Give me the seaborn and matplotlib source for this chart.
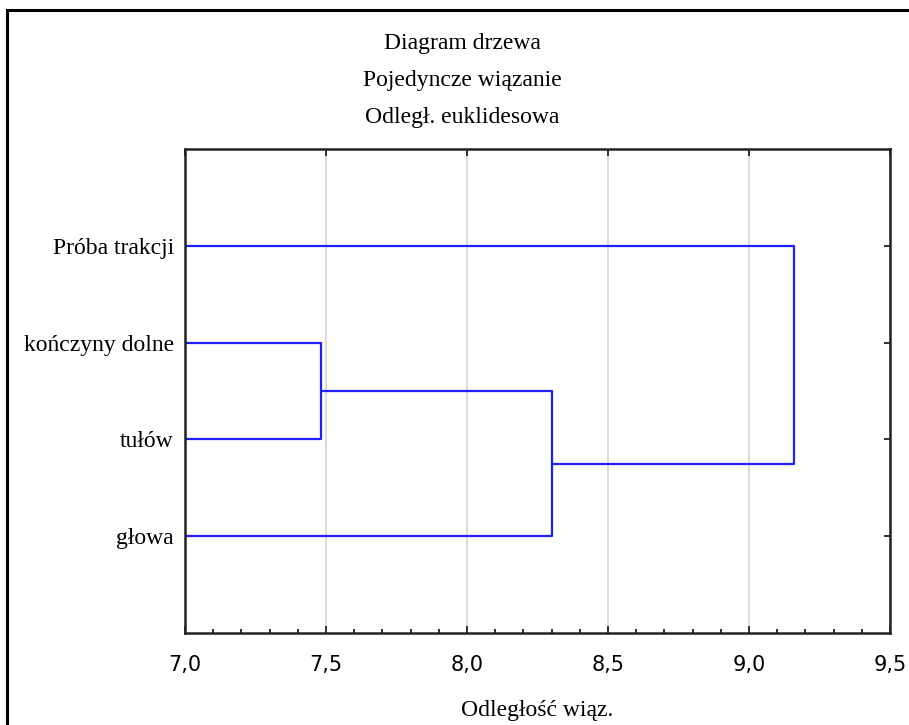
import numpy as np
import pandas as pd
import matplotlib
matplotlib.use("Agg")
import matplotlib.pyplot as plt
import matplotlib.patches as patches
import seaborn as sns
from matplotlib.ticker import MultipleLocator, FuncFormatter

# ----- data: single linkage tree, euclidean distance -----
leaves = ["Próba trakcji", "kończyny dolne", "tułów", "głowa"]
# each merge joins member_a and member_b at merge_dist; clusters are called C1, C2, ...
member_a = ["kończyny dolne", "C1", "Próba trakcji"]
member_b = ["tułów", "głowa", "C2"]
merge_dist = [7.484, 8.30, 9.16]

title_lines = ["Diagram drzewa", "Pojedyncze wiązanie", "Odległ. euklidesowa"]
x_label = "Odległość wiąz."
x_min, x_max = 7.0, 9.5

sns.set_style("white")
plt.rcParams["font.family"] = ["Liberation Serif", "DejaVu Serif"]
plt.rcParams["text.color"] = "black"

# build the dendrogram segments
pos = {name: i + 1 for i, name in enumerate(leaves)}
height = {name: x_min for name in leaves}
rows = []
for i, (a, b, d) in enumerate(zip(member_a, member_b, merge_dist)):
    pts = [(height[a], pos[a]), (d, pos[a]), (d, pos[b]), (height[b], pos[b])]
    for px, py in pts:
        rows.append({"x": px, "y": py, "seg": i})
    name = "C" + str(i + 1)
    pos[name] = (pos[a] + pos[b]) / 2
    height[name] = d
seg_df = pd.DataFrame(rows)

fig = plt.figure(figsize=(9.09, 7.25), dpi=100)
ax = fig.add_axes([0.2035, 0.127, 0.7755, 0.6675])

sns.lineplot(data=seg_df, x="x", y="y", units="seg", estimator=None, sort=False,
             color="#2020ff", linewidth=1.6, legend=False, ax=ax)

ax.set_xlim(x_min, x_max)
ax.set_ylim(5, 0)
ax.set_yticks(range(1, len(leaves) + 1))
ax.set_yticklabels(leaves, fontsize=17)
ax.xaxis.set_major_locator(MultipleLocator(0.5))
ax.xaxis.set_minor_locator(MultipleLocator(0.1))
ax.xaxis.set_major_formatter(FuncFormatter(lambda v, p: f"{v:.1f}".replace(".", ",")))
ax.tick_params(axis="x", which="major", direction="in", length=5, width=1.3,
               bottom=True, top=True, labelsize=15, pad=16, color="#222222",
               labelcolor="black")
ax.tick_params(axis="x", which="minor", direction="in", length=3, width=1.3,
               bottom=True, top=False, color="#222222")
ax.tick_params(axis="y", direction="in", length=4, width=1.3, left=True, right=True,
               pad=8, color="#222222", labelcolor="black")
for lab in ax.get_xticklabels():
    lab.set_family(["DejaVu Sans"])

ax.xaxis.grid(True, which="major", color="#d8d8d8", linewidth=1.3)
ax.set_axisbelow(True)
for s in ax.spines.values():
    s.set_linewidth(1.8)
    s.set_color("#222222")

ax.set_xlabel(x_label, fontsize=17, labelpad=18, color="black")
ax.set_ylabel("")

for i, line in enumerate(title_lines):
    fig.text(0.509, 1 - (43 + i * 37.5) / 725, line, ha="center", va="center",
             fontsize=17, color="black")

# outer frame of the graph window
frame = patches.Rectangle((7.5 / 909, -0.2), 1.2, 1.2 - 10 / 725,
                          transform=fig.transFigure, fill=False,
                          edgecolor="black", linewidth=2.2, clip_on=False)
fig.patches.append(frame)

plt.savefig("out.png", dpi=100)
